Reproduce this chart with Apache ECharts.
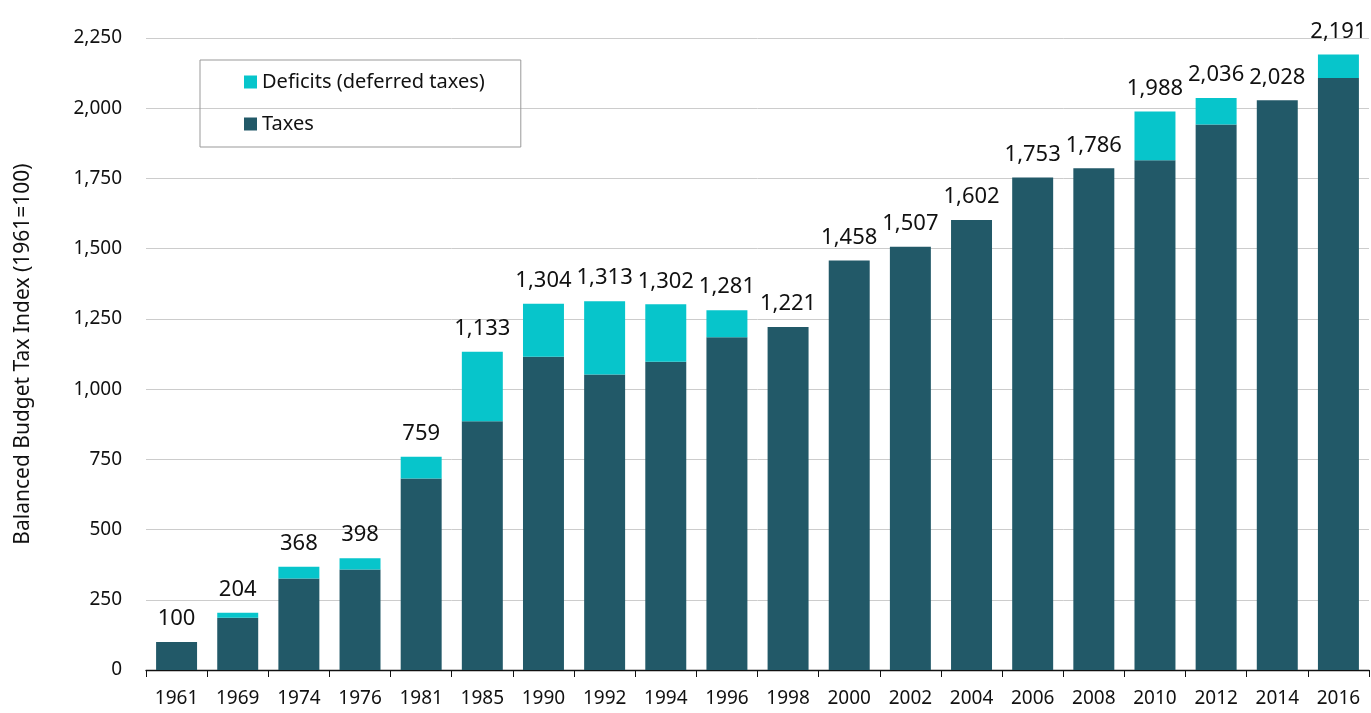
<!DOCTYPE html>
<html><head><meta charset="utf-8">
<script src="https://cdn.jsdelivr.net/npm/echarts@6/dist/echarts.min.js"></script>
<style>html,body{margin:0;padding:0;background:#fff}#c{width:1371px;height:713px}</style>
</head><body><div id="c"></div>
<script>
const years = ['1961','1969','1974','1976','1981','1985','1990','1992','1994','1996','1998','2000','2002','2004','2006','2008','2010','2012','2014','2016'];
const totals = [100,204,368,398,759,1133,1304,1313,1302,1281,1221,1458,1507,1602,1753,1786,1988,2036,2028,2191];
const taxes = [100,186,326,358,682,886,1115,1052,1097,1185,1221,1458,1507,1602,1753,1786,1815,1942,2028,2108];
const deficits = totals.map((t,i)=>t-taxes[i]);
const yTicks = [0,250,500,750,1000,1250,1500,1750,2000,2250];

const FONT = '"Noto Sans", sans-serif';
const chart = echarts.init(document.getElementById('c'));
chart.setOption({
  animation:false,
  textStyle:{fontFamily:FONT},
  grid:{left:146,right:2,top:38,bottom:43,containLabel:false},
  legend:{
    orient:'vertical', left:200, top:60,
    data:['Deficits (deferred taxes)','Taxes'],
    itemWidth:13, itemHeight:13, itemGap:22,
    padding:[12,36,13,44],
    borderColor:'#999', borderWidth:1,
    textStyle:{fontSize:20,color:'#111',fontFamily:FONT},
    icon:'rect'
  },
  xAxis:{
    type:'category', data:years,
    axisLine:{lineStyle:{color:'#111',width:1.3}},
    axisTick:{show:true,length:7,lineStyle:{color:'#111'}},
    axisLabel:{fontSize:19,color:'#111',margin:19,fontFamily:FONT}
  },
  yAxis:{
    type:'value', min:0, max:2250, interval:250,
    name:'Balanced Budget Tax Index (1961=100)',
    nameLocation:'middle', nameGap:112,
    nameTextStyle:{fontSize:21,color:'#111',fontFamily:FONT},
    axisLine:{show:false}, axisTick:{show:false},
    splitLine:{lineStyle:{color:'#cccccc',width:1}},
    axisLabel:{fontSize:19,color:'#111',margin:24,fontFamily:FONT,
      formatter:v=>v.toLocaleString('en-US')}
  },
  series:[
    {name:'Taxes',type:'bar',stack:'t',data:taxes,barCategoryGap:'33%',
      itemStyle:{color:'#225968'}},
    {name:'Deficits (deferred taxes)',type:'bar',stack:'t',data:deficits,
      itemStyle:{color:'#07c5cb'},
      label:{show:true,position:'top',distance:12,fontSize:22,color:'#111',fontFamily:FONT,
        formatter:p=>totals[p.dataIndex].toLocaleString('en-US')}}
  ]
});
</script></body></html>
